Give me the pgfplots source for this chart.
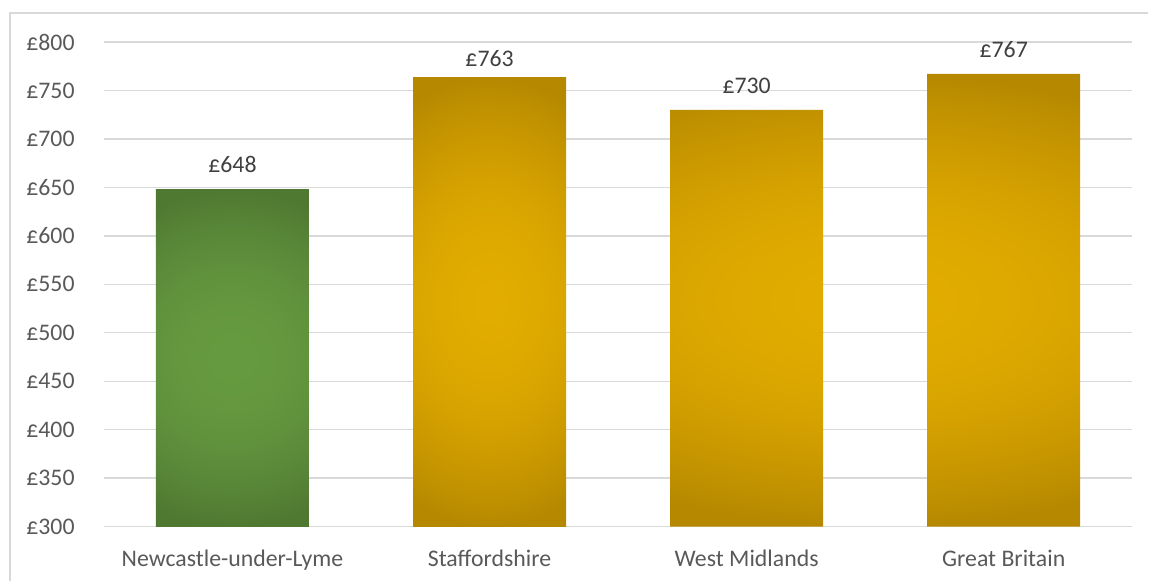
\documentclass[border=0pt]{standalone}
\usepackage{fontspec}
\setmainfont{Carlito}
\usepackage{pgfplots}
\pgfplotsset{compat=1.18}
\usepackage{pgfplotstable}
\definecolor{gridc}{HTML}{D9D9D9}
\definecolor{tickc}{HTML}{595959}
\definecolor{labc}{HTML}{404040}
\pgfdeclarefunctionalshading{goldglow}{\pgfpoint{-50bp}{-50bp}}{\pgfpoint{50bp}{50bp}}{}{
  25 div exch 25 div 0.45 mul dup mul exch dup mul add
  dup 1 gt {pop 1} if
  dup -0.176 mul 0.886 add exch -0.142 mul 0.675 add 0
}
\pgfdeclarefunctionalshading{greenglow}{\pgfpoint{-50bp}{-50bp}}{\pgfpoint{50bp}{50bp}}{}{
  25 div exch 25 div 0.45 mul dup mul exch dup mul add
  dup 1 gt {pop 1} if
  dup dup -0.090 mul 0.400 add exch -0.135 mul 0.605 add 3 -1 roll -0.057 mul 0.250 add
}
\pgfplotstableread{
x y
0 648
}\tblA
\pgfplotstableread{
x y
1 763
}\tblB
\pgfplotstableread{
x y
2 730
3 767
}\tblC
\begin{document}
\fontsize{11.9}{14}\selectfont
\begin{tikzpicture}
\begin{axis}[
  scale only axis, width=514.5pt, height=242.5pt,
  xmin=-0.5, xmax=3.5, ymin=300, ymax=800,
  y coord trafo/.code={\pgfmathparse{#1-300}},
  y coord inv trafo/.code={\pgfmathparse{#1+300}},
  ytick={300,350,...,800},
  xtick={0,1,2,3},
  xticklabels={Newcastle-under-Lyme,Staffordshire,West Midlands,Great Britain},
  ymajorgrids, grid style={gridc, line width=0.7pt},
  axis line style={draw=none}, tick style={draw=none}, major tick length=0pt,
  /pgf/number format/assume math mode=true,
  yticklabel={£\pgfmathprintnumber{\tick}},
  yticklabel style={anchor=east, inner sep=0pt, xshift=-14.5pt, text=tickc, font=\fontsize{11.9}{14}\selectfont},
  xticklabel style={anchor=north, inner sep=0pt, yshift=-11.5pt, text=tickc, font=\fontsize{11.9}{14}\selectfont},
  nodes near coords style={anchor=south, inner sep=0pt, yshift=8pt, text=labc, font=\fontsize{11.9}{14}\selectfont},
]
\addplot[ybar, bar width=0.595, bar shift=0pt, draw=none, shading=greenglow,
  point meta=explicit symbolic, nodes near coords={£\pgfplotspointmeta}]
  table[x=x, y=y, meta=y]{\tblA};
\addplot[ybar, bar width=0.595, bar shift=0pt, draw=none, shading=goldglow,
  point meta=explicit symbolic, nodes near coords={£\pgfplotspointmeta},
  nodes near coords style={yshift=-2.5pt}]
  table[x=x, y=y, meta=y]{\tblB};
\addplot[ybar, bar width=0.595, bar shift=0pt, draw=none, shading=goldglow,
  point meta=explicit symbolic, nodes near coords={£\pgfplotspointmeta}]
  table[x=x, y=y, meta=y]{\tblC};
\end{axis}
\draw[gridc, line width=0.75pt] (-47pt,-27pt) -- (-47pt,257pt) -- (522.5pt,257pt);
\path[use as bounding box] (-52pt,-27pt) rectangle (522.5pt,263.5pt);
\end{tikzpicture}
\end{document}
